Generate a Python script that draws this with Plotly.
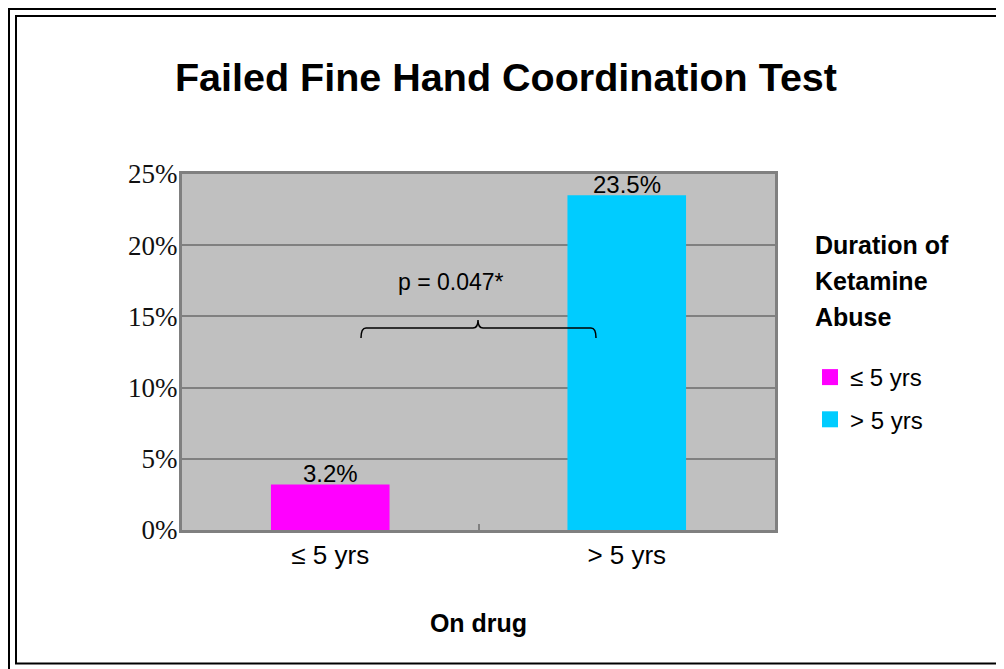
import plotly.graph_objects as go

categories = ["≤ 5 yrs", "> 5 yrs"]
values = [3.2, 23.5]
colors = ["#FF00FF", "#00CCFF"]
y_ticks = [0, 5, 10, 15, 20, 25]
y_ticklabels = ["0%", "5%", "10%", "15%", "20%", "25%"]
legend_title_lines = ["Duration of", "Ketamine", "Abuse"]
p_text = "p = 0.047*"

OFF = 8  # page body margin
W, H = 996, 661
L, T = 182 - OFF, 174 - OFF
R = W - (775 - OFF)
B = H - (530 - OFF)
PW, PH = W - L - R, H - T - B


def px2x(sx):
    return (sx - OFF - L) / PW


def py2y(sy):
    return (H - B - (sy - OFF)) / PH


FONT = "Liberation Sans, Arial"

fig = go.Figure()

for cat, val, col in zip(categories, values, colors):
    fig.add_trace(go.Bar(x=[cat], y=[val], marker=dict(color=col, line=dict(width=0)),
                         showlegend=False, hoverinfo="skip"))

for i, (cat, col) in enumerate(zip(categories, colors)):
    fig.add_trace(go.Scatter(x=[None], y=[None], mode="markers", name=cat,
                             legendgroup=f"g{i}",
                             marker=dict(symbol="square", size=17, color=col)))

annotations = []
for cat, val in zip(categories, values):
    annotations.append(dict(x=cat, y=val, xref="x", yref="y", text=f"{val}%",
                            showarrow=False, yanchor="bottom", yshift=-5,
                            font=dict(family=FONT, size=24, color="black")))

for k, line in enumerate(legend_title_lines):
    annotations.append(dict(x=px2x(813), y=py2y(245 + 36 * k), xref="paper", yref="paper",
                            text=f"<b>{line}</b>", showarrow=False, xanchor="left", yanchor="middle",
                            font=dict(family=FONT, size=25, color="black")))

annotations.append(dict(x=px2x(451), y=py2y(282), xref="paper", yref="paper", text=p_text,
                        showarrow=False, xanchor="center", yanchor="middle",
                        font=dict(family=FONT, size=23, color="black")))

shapes = []
x1, xm, x2 = px2x(361), px2x(478), px2x(596)
yb, yl, yt = py2y(338), py2y(328), py2y(320)
dx = 5 / PW
path = (f"M{x1},{yb} Q{x1},{yl} {x1+dx},{yl} L{xm-dx},{yl} Q{xm},{yl} {xm},{yt} "
        f"Q{xm},{yl} {xm+dx},{yl} L{x2-dx},{yl} Q{x2},{yl} {x2},{yb}")
shapes.append(dict(type="path", path=path, xref="paper", yref="paper",
                   line=dict(color="black", width=1.5)))
shapes.append(dict(type="rect", xref="paper", yref="paper", x0=px2x(8.5), y0=py2y(700),
                   x1=px2x(1040), y1=py2y(8.5), line=dict(color="black", width=3), layer="below"))
shapes.append(dict(type="rect", xref="paper", yref="paper", x0=px2x(16), y0=py2y(663.5),
                   x1=px2x(1002.5), y1=py2y(16), line=dict(color="black", width=2), layer="below"))

fig.update_layout(
    width=W, height=H,
    margin=dict(l=L, r=R, t=T, b=B),
    paper_bgcolor="white",
    plot_bgcolor="#C0C0C0",
    barmode="overlay",
    bargap=0.6,
    title=dict(text="<b>Failed Fine Hand Coordination Test</b>", x=0.5, xref="container",
               y=1 - (77 - OFF) / H, yref="container", xanchor="center", yanchor="middle",
               font=dict(family=FONT, size=39.5, color="black")),
    xaxis=dict(type="category", categoryorder="array", categoryarray=categories,
               showline=True, linecolor="#808080", linewidth=3, mirror=True,
               showgrid=False, ticks="inside", tickson="boundaries", ticklen=6,
               tickcolor="#808080", tickwidth=1.5,
               tickfont=dict(family=FONT, size=26, color="black"),
               title=dict(text="<b>On drug</b>", standoff=46,
                          font=dict(family=FONT, size=25, color="black"))),
    yaxis=dict(range=[0, 25], tickvals=y_ticks, ticktext=y_ticklabels,
               showline=True, linecolor="#808080", linewidth=3, mirror=True,
               showgrid=True, gridcolor="#808080", gridwidth=1.5, zeroline=False,
               ticks="", ticklabelstandoff=-4,
               tickfont=dict(family="Liberation Serif, Times New Roman", size=27, color="#111111")),
    showlegend=True,
    legend=dict(x=px2x(810), y=py2y(355), xanchor="left", yanchor="top",
                bgcolor="rgba(0,0,0,0)", tracegroupgap=8,
                font=dict(family=FONT, size=24, color="black")),
    annotations=annotations,
    shapes=shapes,
)

fig.write_html("out.html")
